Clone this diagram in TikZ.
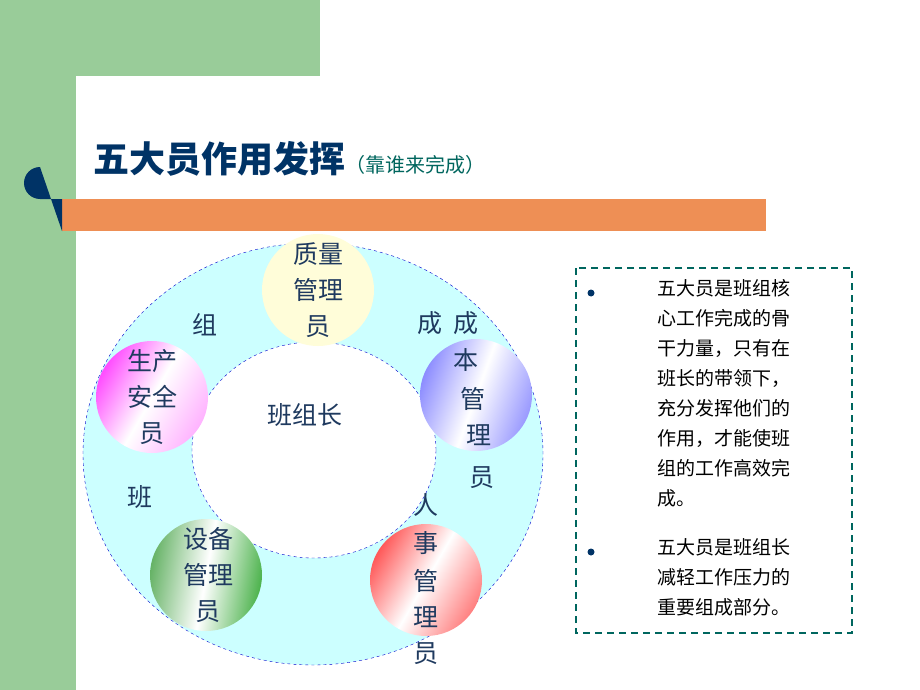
\documentclass[tikz,border=0pt]{standalone}
\usepackage{fontspec}
\setmainfont{Noto Sans CJK SC}
\newfontfamily\cjk{Noto Sans CJK SC}
\usetikzlibrary{positioning,shapes.geometric}
\definecolor{bandgreen}{HTML}{99CC99}
\definecolor{barorange}{HTML}{EE8F55}
\definecolor{navy}{HTML}{003366}
\definecolor{ringcyan}{HTML}{CCFFFF}
\definecolor{textblue}{HTML}{1F3A5F}
\definecolor{boxteal}{HTML}{00665E}

\begin{document}
\begin{tikzpicture}[x=1pt,y=-1pt,
    member/.style={circle,minimum size=112pt,inner sep=0},
    glyph/.style={font=\fontsize{25}{25}\selectfont,text=textblue,inner sep=0},
    stacked/.style={glyph,align=center,font=\fontsize{25}{36}\selectfont},
    body/.style={font=\fontsize{19}{30}\selectfont,text=black,align=left,anchor=north west,inner sep=0}]
    \useasboundingbox (0,0) rectangle (920,690);
    % background band
    \fill[bandgreen] (0,0) rectangle (320,76);
    \fill[bandgreen] (0,0) rectangle (76,690);
    \fill[white] (76,690) -- (76,116) arc[start angle=180,end angle=90,radius=40] -- (320,76) -- (320,690) -- cycle;
    % title
    \node[anchor=base west,font=\bfseries\fontsize{36}{36}\selectfont,text=navy,inner sep=0] (title) at (93,172) {五大员作用发挥};
    \node[anchor=base west,font=\fontsize{20}{20}\selectfont,text=boxteal,inner sep=0] (sub) at (title.base east) {（靠谁来完成）};
    \fill[barorange] (62,199) rectangle (766,231);
    \fill[navy] (62,199) -- (40,199) arc[start angle=90,end angle=270,radius=16] -- (62,231) -- cycle;
    % ring
    \node[ellipse,minimum width=460pt,minimum height=422pt,draw=blue!80!black,dashed,fill=ringcyan] (outer) at (313,454) {};
    \node[ellipse,minimum width=244pt,minimum height=216pt,draw=blue!80!black,dashed,fill=white] (inner) at (314,450) {};
    % members
    \node[member,fill=yellow!15] (quality) at (318,290) {};
    \node[member,left color=magenta!70,right color=magenta!30,middle color=white,shading angle=60] (safety) at (152,397) {};
    \node[member,left color=blue!45,right color=blue!40,middle color=white,shading angle=70] (cost) at (476,395) {};
    \node[member,left color=black!50!green!60,right color=gray!60!green,middle color=white,shading angle=80] (equip) at (206,575) {};
    \node[member,left color=red!65,right color=red!50,middle color=white,shading angle=60] (staff) at (426,580) {};
    % labels
    \node[stacked] at (quality) {质量\\管理\\员};
    \node[stacked] at (safety) {生产\\安全\\员};
    \node[stacked] at (208,575) {设备\\管理\\员};
    \node[glyph] at (430,323) {成};
    \node[glyph] at (466,323) {成};
    \node[glyph] at (466,360) {本};
    \node[glyph] at (473,399) {管};
    \node[glyph] at (479,435) {理};
    \node[glyph] at (482,478) {员};
    \node[glyph] at (426,505) {人};
    \node[glyph] at (426,543) {事};
    \node[glyph] at (426,581) {管};
    \node[glyph] at (426,617) {理};
    \node[glyph] at (426,654) {员};
    \node[glyph] (zu) at (205,325) {组};
    \node[glyph] (ban) at (140,497) {班};
    \node[glyph] (leader) at (305,415) {班组长};
    % text box
    \draw[boxteal,dashed,line width=2.2pt,dash pattern=on 7pt off 5pt] (576,268) rectangle (852,633);
    \fill[navy] (591,293) circle (3.5pt);
    \fill[navy] (591,552) circle (3.5pt);
    \node[body] (p1) at (657,279) {五大员是班组核\\心工作完成的骨\\干力量，只有在\\班长的带领下，\\充分发挥他们的\\作用，才能使班\\组的工作高效完\\成。};
    \node[body] (p2) at (657,538) {五大员是班组长\\减轻工作压力的\\重要组成部分。};
\end{tikzpicture}
\end{document}
